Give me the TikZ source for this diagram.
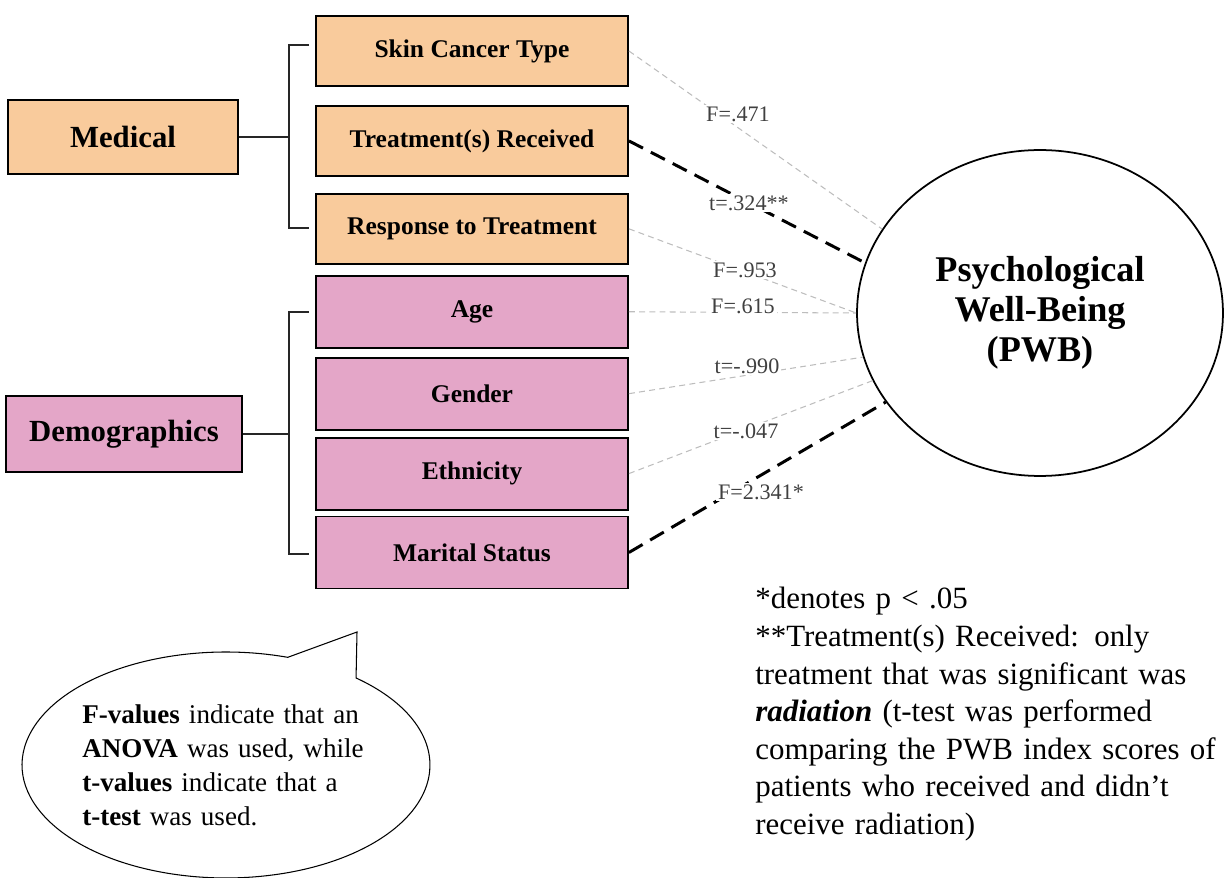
\documentclass[tikz,border=0pt]{standalone}
\usepackage{fontspec}
\setmainfont{Liberation Serif}
\usetikzlibrary{positioning,shapes.geometric,shapes.callouts}
\definecolor{lightorange}{HTML}{F9CB9C}
\definecolor{lightmagenta}{HTML}{E4A6C8}
\definecolor{pathgray}{HTML}{BDBDBD}
\definecolor{labelgray}{HTML}{404040}
\tikzset{
  categoria/.style={
    draw=black,
    line width=1.1pt,
    align=center,
    inner sep=0pt,
    font=\fontsize{17.5}{21}\selectfont\bfseries
  },
  varbox/.style={
    draw=black,
    line width=1.1pt,
    align=center,
    minimum width=6.24cm,
    inner sep=0pt,
    font=\fontsize{14.5}{17}\selectfont\bfseries
  },
  pwbnode/.style={
    ellipse,
    draw=black,
    line width=1pt,
    minimum width=7.32cm,
    minimum height=6.52cm,
    align=center,
    font=\fontsize{20.6}{22.7}\selectfont\bfseries
  },
  nosig/.style={
    draw=pathgray,
    line width=0.6pt,
    dash pattern=on 3.4pt off 2.4pt
  },
  sig/.style={
    draw=black,
    line width=1.7pt,
    dash pattern=on 9pt off 5pt
  },
  lbl/.style={
    fill=white,
    text=labelgray,
    inner sep=1pt,
    font=\fontsize{12.6}{14}\selectfont
  },
  brk/.style={
    draw=black!85,
    line width=1.1pt
  },
  bubble/.style={
    ellipse callout,
    draw=black,
    line width=0.6pt,
    minimum width=8.16cm,
    minimum height=4.52cm,
    text width=5.75cm,
    inner sep=0pt,
    align=left,
    callout pointer arc=22,
    font=\fontsize{15.4}{19.3}\selectfont
  },
  nota/.style={
    anchor=north west,
    inner sep=0pt,
    align=left,
    text width=9.6cm,
    font=\fontsize{17.6}{21.4}\selectfont
  }
}
\begin{document}
\begin{tikzpicture}[x=0.02cm,y=-0.02cm]
\useasboundingbox (0,0) rectangle (1225,878);
\node[categoria,fill=lightorange,minimum width=4.6cm,minimum height=1.48cm] (med) at (123,137) {Medical};
\node[categoria,fill=lightmagenta,minimum width=4.72cm,minimum height=1.52cm] (dem) at (124,434) {Demographics};
\node[varbox,fill=lightorange,minimum height=1.4cm] (skin) at (472,51) {Skin Cancer Type};
\node[varbox,fill=lightorange,minimum height=1.4cm,below=0.36cm of skin] (treat) {Treatment(s) Received};
\node[varbox,fill=lightorange,minimum height=1.4cm,below=0.32cm of treat] (resp) {Response to Treatment};
\node[varbox,fill=lightmagenta,minimum height=1.44cm,below=0.2cm of resp] (age) {Age};
\node[varbox,fill=lightmagenta,minimum height=1.44cm,below=0.16cm of age] (gender) {Gender};
\node[varbox,fill=lightmagenta,minimum height=1.44cm,below=0.12cm of gender] (eth) {Ethnicity};
\node[varbox,fill=lightmagenta,minimum height=1.44cm,below=0.1cm of eth] (mar) {Marital Status};
\node[pwbnode] (pwb) at (1040,313) {Psychological\\Well-Being\\(PWB)};
\coordinate (medtop) at (309,45);
\coordinate (medjoin) at (289,137);
\coordinate (medbot) at (309,228);
\coordinate (demtop) at (309,312);
\coordinate (demjoin) at (289,434);
\coordinate (dembot) at (309,554);
\draw[brk] (med) -- (medjoin);
\draw[brk] (medtop) -| (medjoin) |- (medbot);
\draw[brk] (dem) -- (demjoin);
\draw[brk] (demtop) -| (demjoin) |- (dembot);
\draw[nosig] (skin.east) -- (pwb.152);
\draw[sig] (treat.east) -- (pwb.164);
\draw[nosig] (resp.east) -- (pwb.180);
\draw[nosig] (age.east) -- (pwb.180);
\draw[nosig] (gender.east) -- (pwb.194);
\draw[nosig] (eth.east) -- (pwb.202);
\draw[sig] (mar.east) -- (pwb.210);
\node[lbl] (f471) at (738,114) {F=.471};
\node[lbl] (t324) at (749,203) {t=.324**};
\node[lbl] (f953) at (745,270) {F=.953};
\node[lbl] (f615) at (743,306) {F=.615};
\node[lbl] (t990) at (747,366) {t=-.990};
\node[lbl] (t047) at (746,431) {t=-.047};
\node[lbl] (f2341) at (761,492) {F=2.341*};
\node[bubble,callout absolute pointer={(357,632)}] (callout) at (226,765) {\textbf{F-values} indicate that an\\\textbf{ANOVA} was used, while\\\textbf{t-values} indicate that a\\\textbf{t-test} was used.};
\node[nota] (notes) at (755,587) {*denotes p < .05\\\relax**Treatment(s) Received: only\\treatment that was significant was\\\textbf{\textit{radiation}} (t-test was performed\\comparing the PWB index scores of\\patients who received and didn’t\\receive radiation)};
\end{tikzpicture}
\end{document}
